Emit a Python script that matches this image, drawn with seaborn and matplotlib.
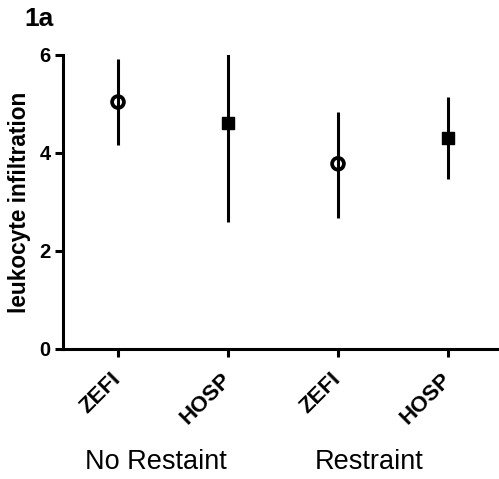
import numpy as np
import pandas as pd
import matplotlib
matplotlib.use("Agg")
import matplotlib.pyplot as plt
import matplotlib.transforms as mtransforms
import seaborn as sns

# Leukocyte infiltration per treatment, with and without restraint
groups = ["No Restaint", "No Restaint", "Restraint", "Restraint"]
treatments = ["ZEFI", "HOSP", "ZEFI", "HOSP"]
means = [5.04, 4.61, 3.78, 4.31]
lower = [4.16, 2.59, 2.67, 3.47]
upper = [5.92, 6.02, 4.84, 5.14]
group_names = ["No Restaint", "Restraint"]
y_ticks = [0, 2, 4, 6]

sns.set_style("ticks")
plt.rcParams["font.family"] = ["Liberation Sans", "DejaVu Sans"]
plt.rcParams.update({
    "text.color": "black",
    "axes.labelcolor": "black",
    "xtick.color": "black",
    "ytick.color": "black",
})

df = pd.DataFrame({
    "group": groups,
    "treatment": treatments,
    "mean": means,
    "lower": lower,
    "upper": upper,
})
df["pos"] = np.arange(len(df))

W, H = 499, 479
fig = plt.figure(figsize=(W / 100, H / 100), dpi=100)
ax = fig.add_axes([63 / W, 130 / H, 440 / W, 294 / H])

lw = 2.2
ax.vlines(df["pos"], df["lower"], df["upper"], color="black", linewidth=lw, zorder=2)

styles = {
    "ZEFI": dict(marker="o", s=72, facecolor="none", edgecolor="black", linewidth=2.7),
    "HOSP": dict(marker="s", s=76, facecolor="black", edgecolor="black", linewidth=1),
}
for t, st in styles.items():
    sub = df[df["treatment"] == t]
    sns.scatterplot(data=sub, x="pos", y="mean", ax=ax, legend=False, zorder=3, **st)

ax.set_xlim(-0.5, 3.5)
ax.set_ylim(0, 6)
ax.set_yticks(y_ticks)
ax.set_yticklabels([str(v) for v in y_ticks], fontsize=14.5, fontweight="bold")
ax.set_xticks(df["pos"])
ax.set_xticklabels(df["treatment"], fontsize=16, fontweight="bold",
                   rotation=45, ha="right", va="center", rotation_mode="anchor")
shift = mtransforms.ScaledTranslation(3 / 100, 0, fig.dpi_scale_trans)
for lab in ax.get_xticklabels():
    lab.set_transform(lab.get_transform() + shift)
ax.tick_params(axis="y", length=6, width=lw, pad=3)
ax.tick_params(axis="x", length=6, width=lw, pad=13.5)

sns.despine(ax=ax)
for side in ("left", "bottom"):
    ax.spines[side].set_linewidth(lw)
    ax.spines[side].set_color("black")

ax.set_xlabel("")
ax.set_ylabel("leukocyte infiltration", fontsize=16.3, fontweight="bold")
ax.yaxis.set_label_coords(-32 / 440, 0.5)

# Group captions under each pair of treatments
trans = mtransforms.blended_transform_factory(ax.transData, fig.transFigure)
caption_shift = [-0.153, -0.218]
for name, dx in zip(group_names, caption_shift):
    x_center = df.loc[df["group"] == name, "pos"].mean() + dx
    ax.text(x_center, 10 / H, name, transform=trans, ha="center", va="baseline",
            fontsize=19.5, clip_on=False)

fig.text(24 / W, 1 - 7 / H, "1a", ha="left", va="top", fontsize=19, fontweight="bold")

fig.savefig("out.png", dpi=100, facecolor="white")
